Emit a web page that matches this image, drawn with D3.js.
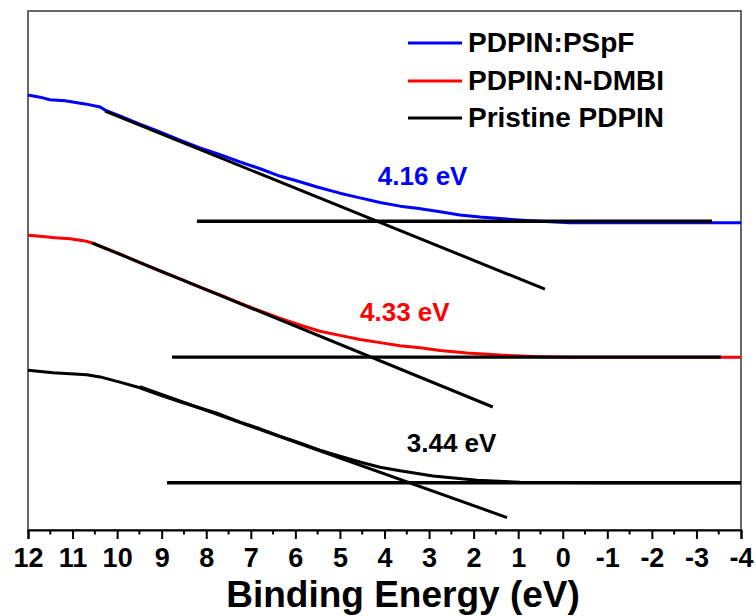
<!DOCTYPE html>
<html>
<head>
<meta charset="utf-8">
<script src="https://cdn.jsdelivr.net/npm/d3@7.9.0/dist/d3.min.js"></script>
<style>
  body { margin: 0; background: #fff; }
  svg text { font-family: "Liberation Sans", Arial, sans-serif; font-weight: bold; }
</style>
</head>
<body>
<svg id="chart" width="756" height="616"></svg>
<script>
// UPS secondary-electron cutoff spectra, [binding energy (eV), intensity (a.u.)]
const pspf = [[12,83.8],[11.73,83.4],[11.51,82.9],[11.17,82.7],[10.72,82.1],[10.38,81.5],[10.27,80.9],
  [9.94,79.8],[9.49,78.2],[9.04,76.7],[8.59,75.1],[8.14,73.6],[7.69,72.3],[7.24,70.9],[6.79,69.6],
  [6.35,68.2],[5.90,67.1],[5.51,66.1],[5.00,64.9],[4.55,64.0],[4.10,63.1],[3.65,62.4],[3.27,62.0],
  [2.75,61.3],[2.31,60.7],[1.86,60.3],[1.41,60.0],[0.73,59.6],[-0.16,59.2],[-4,59.2]];
const ndmbi = [[12,56.8],[11.73,56.6],[11.39,56.3],[11.06,56.1],[10.72,55.7],[10.56,55.3],[10.38,54.7],
  [9.94,53.2],[9.49,51.5],[9.04,49.9],[8.59,48.4],[8.14,46.8],[7.69,45.3],[7.24,43.7],[6.79,42.2],
  [6.35,40.8],[5.90,39.5],[5.45,38.3],[5.00,37.5],[4.55,36.7],[4.10,36.1],[3.65,35.5],[3.20,35.1],
  [2.75,34.6],[2.15,34.1],[1.41,33.7],[0.51,33.4],[-0.16,33.3],[-4,33.3]];
const pristine = [[12,30.8],[11.44,30.3],[10.68,29.9],[10.38,29.5],[9.94,28.5],[9.49,27.4],[9.04,26.0],
  [8.59,24.7],[8.14,23.5],[7.76,22.5],[7.24,20.8],[6.79,19.5],[6.35,18.1],[5.90,16.8],[5.45,15.4],
  [5.00,14.2],[4.55,13.1],[4.10,12.1],[3.65,11.4],[2.91,10.4],[1.92,9.6],[0.96,9.2],[-0.84,9.1],[-4,9.1]];

const seriesNames = ["PDPIN:PSpF", "PDPIN:N-DMBI", "Pristine PDPIN"];
const seriesColors = ["#0000ff", "#ff0000", "#000000"];

// linear fits of the cutoff edge and the flat background
const tangents = [[[10.27,80.7],[0.40,46.4]], [[10.56,55.3],[1.57,23.7]], [[9.49,27.6],[1.25,2.4]]];
const baselines = [[[8.21,59.5],[-3.35,59.5]], [[8.77,33.3],[-3.55,33.3]], [[8.88,9.1],[-4,9.1]]];

// onset labels: text, anchor energy, anchor intensity
const onsetLabels = ["4.16 eV", "4.33 eV", "3.44 eV"];
const onsetAt = [[4.15,66.5],[4.55,40.3],[3.50,15.0]];

const xTicks = d3.range(12, -4.5, -1);
const xMinor = d3.range(11.5, -4, -1);

const svg = d3.select("#chart");

const x = d3.scaleLinear().domain([12, -4]).range([28, 741]);
const y = d3.scaleLinear().domain([0, 100]).range([530, 11]);

// frame
svg.append("rect")
  .attr("x", 28).attr("y", 11)
  .attr("width", 741 - 28).attr("height", 530 - 11)
  .attr("fill", "none").attr("stroke", "#444").attr("stroke-width", 1.6);

const line = d3.line().x(d => x(d[0])).y(d => y(d[1]));

[pspf, ndmbi, pristine].forEach((s, i) => {
  svg.append("path")
    .attr("d", line(s))
    .attr("fill", "none")
    .attr("stroke", seriesColors[i])
    .attr("stroke-width", 3)
    .attr("stroke-linejoin", "round");
});

tangents.forEach(t => {
  svg.append("path").attr("d", line(t))
    .attr("stroke", "#000").attr("stroke-width", 3);
});
baselines.forEach(b => {
  svg.append("path").attr("d", line(b))
    .attr("stroke", "#000").attr("stroke-width", 3.4);
});

onsetLabels.forEach((t, i) => {
  svg.append("text")
    .attr("x", x(onsetAt[i][0]))
    .attr("y", y(onsetAt[i][1]))
    .attr("fill", seriesColors[i])
    .attr("font-size", 26)
    .text(t);
});

// bottom axis
const axis = svg.append("g").attr("transform", "translate(0,530)");
axis.call(d3.axisBottom(x).tickValues(xTicks).tickSize(9).tickPadding(9).tickFormat(d => String(d)));
axis.select(".domain").attr("stroke", "#000").attr("stroke-width", 2);
axis.selectAll(".tick line").attr("stroke", "#000").attr("stroke-width", 2);
axis.selectAll(".tick text")
  .attr("fill", "#000")
  .style("font-size", "27px")
  .style("font-family", "'Liberation Sans', Arial, sans-serif")
  .style("font-weight", "bold");

axis.selectAll(".minor").data(xMinor).enter().append("line")
  .attr("x1", d => x(d)).attr("x2", d => x(d))
  .attr("y1", 0).attr("y2", 4.5)
  .attr("stroke", "#000").attr("stroke-width", 2);

svg.append("text")
  .attr("x", 403).attr("y", 607)
  .attr("text-anchor", "middle")
  .attr("font-size", 37)
  .text("Binding Energy (eV)");

// legend
const legendY = [43, 81, 118];
seriesNames.forEach((n, i) => {
  svg.append("line")
    .attr("x1", 408).attr("x2", 462)
    .attr("y1", legendY[i]).attr("y2", legendY[i])
    .attr("stroke", seriesColors[i]).attr("stroke-width", 3);
  svg.append("text")
    .attr("x", 468).attr("y", legendY[i] + 9)
    .attr("font-size", 28)
    .text(n);
});
</script>
</body>
</html>
